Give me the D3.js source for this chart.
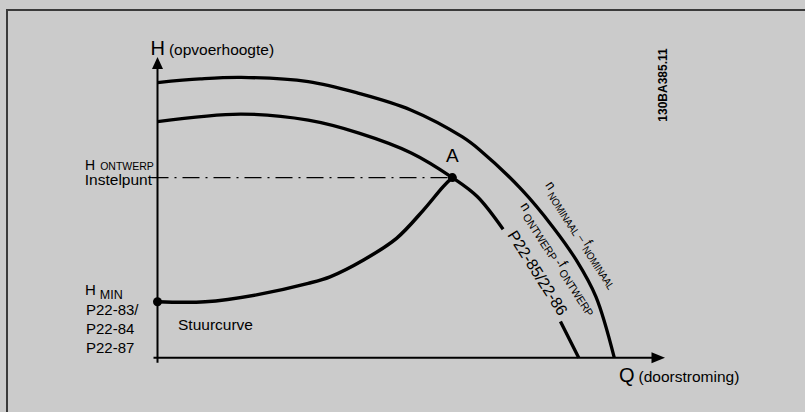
<!DOCTYPE html>
<html>
<head>
<meta charset="utf-8">
<script src="https://cdn.jsdelivr.net/npm/d3@7"></script>
<style>
    html, body { margin: 0; padding: 0; background: #cbcbcb; }
    svg { display: block; font-family: "Liberation Sans", Arial, Helvetica, sans-serif; }
</style>
</head>
<body>
<svg id="chart" width="805" height="412"></svg>
<script>
// pump curve at nominal speed (Q = flow, H = head, 0..100 of axis length)
const nominalQ = [0, 8.4, 16.5, 29.7, 39.7, 49.9, 60, 63.5, 71.8, 77.9, 82.5, 86.4, 90];
const nominalH = [91.5, 92.7, 93.2, 91.8, 87.9, 82.4, 73.5, 69.1, 55.8, 43.5, 32.5, 20.2, 0];

// pump curve at design speed (null = gap where the label sits)
const designQ = [0, 16.4, 29.7, 39.7, 50, 58.1, 63, 68.1, null, 79.4, 83];
const designH = [78.5, 81, 79, 74.7, 68.1, 59.9, 53.6, 42.7, null, 12, 0];

// control curve (Stuurcurve) from H min to design point A
const controlQ = [0, 9.4, 19.5, 29.7, 34, 40.6, 47.1, 52.4, 56.3, 58.1];
const controlH = [18.6, 18.6, 20.9, 24.7, 26.9, 32.5, 39.7, 49.1, 56.9, 59.9];

// marked points: H min and design point A
const pointQ = [0, 58.1];
const pointH = [18.6, 59.9];
const pointLabel = ["", "A"];

const svg = d3.select("#chart");

// frame
svg.append("path")
    .attr("d", "M7,412 V10 H805")
    .attr("fill", "none")
    .attr("stroke", "#3a3a3a")
    .attr("stroke-width", 2);

const x = d3.scaleLinear().domain([0, 100]).range([157.5, 665]);
const y = d3.scaleLinear().domain([0, 100]).range([357.7, 57]);

const g = svg.append("g");

// axes
g.append("line")
    .attr("x1", x(0)).attr("x2", x(0))
    .attr("y1", y(0) + 5).attr("y2", y(100) + 12)
    .attr("stroke", "#000").attr("stroke-width", 2);
g.append("path")
    .attr("d", `M${x(0)},${y(100)} L${x(0) - 5.5},${y(100) + 12} L${x(0) + 5.5},${y(100) + 12} Z`)
    .attr("fill", "#000");

g.append("line")
    .attr("x1", x(0) - 4).attr("x2", x(100) - 13)
    .attr("y1", y(0)).attr("y2", y(0))
    .attr("stroke", "#000").attr("stroke-width", 2);
g.append("path")
    .attr("d", `M${x(100)},${y(0)} L${x(100) - 13.5},${y(0) - 5.5} L${x(100) - 13.5},${y(0) + 5.5} Z`)
    .attr("fill", "#000");

const toPts = (qs, hs) => qs.map((q, i) => [q, hs[i]]);

const line = d3.line()
    .defined(d => d[0] !== null && d[1] !== null)
    .x(d => x(d[0]))
    .y(d => y(d[1]))
    .curve(d3.curveCatmullRom.alpha(0.5));

// setpoint dash-dot line
g.append("line")
    .attr("x1", x(0) - 6).attr("x2", x(pointQ[1]))
    .attr("y1", y(pointH[1])).attr("y2", y(pointH[1]))
    .attr("stroke", "#000").attr("stroke-width", 1.4)
    .attr("stroke-dasharray", "17,6,2,6");

g.append("path")
    .datum(toPts(nominalQ, nominalH))
    .attr("d", line)
    .attr("fill", "none").attr("stroke", "#000").attr("stroke-width", 3.3);

g.append("path")
    .datum(toPts(designQ, designH))
    .attr("d", line)
    .attr("fill", "none").attr("stroke", "#000").attr("stroke-width", 3.3);

g.append("path")
    .datum(toPts(controlQ, controlH))
    .attr("d", line)
    .attr("fill", "none").attr("stroke", "#000").attr("stroke-width", 3.5);

const points = pointQ.map((q, i) => ({ q: q, h: pointH[i], label: pointLabel[i] }));

g.selectAll(".pt")
    .data(points)
    .enter()
    .append("circle")
    .attr("class", "pt")
    .attr("cx", d => x(d.q))
    .attr("cy", d => y(d.h))
    .attr("r", 4.5)
    .attr("fill", "#000");

g.selectAll(".ptlabel")
    .data(points.filter(d => d.label))
    .enter()
    .append("text")
    .attr("class", "ptlabel")
    .attr("x", d => x(d.q))
    .attr("y", d => y(d.h) - 16)
    .attr("text-anchor", "middle")
    .style("font-size", "19px")
    .text(d => d.label);

// axis titles
const ht = g.append("text").attr("x", 150.5).attr("y", 55);
ht.append("tspan").style("font-size", "20px").text("H");
ht.append("tspan").attr("dx", 4).style("font-size", "15.5px").text("(opvoerhoogte)");

const qt = g.append("text").attr("x", 619).attr("y", 382);
qt.append("tspan").style("font-size", "20px").text("Q");
qt.append("tspan").attr("dx", 4).style("font-size", "15.5px").text("(doorstroming)");

// left annotations
const hd = g.append("text").attr("x", 85).attr("y", 169.5);
hd.append("tspan").style("font-size", "14px").text("H");
hd.append("tspan").attr("dx", 5).style("font-size", "10.5px").text("ONTWERP");

g.append("text")
    .attr("x", 152).attr("y", 185)
    .attr("text-anchor", "end")
    .style("font-size", "15.5px")
    .text("Instelpunt");

const hm = g.append("text").attr("x", 85).attr("y", 295);
hm.append("tspan").style("font-size", "15px").text("H");
hm.append("tspan").attr("dx", 4).attr("dy", 4).style("font-size", "12.5px").text("MIN");

["P22-83/", "P22-84", "P22-87"].forEach((t, i) => {
    g.append("text")
        .attr("x", 86).attr("y", 315 + i * 19)
        .style("font-size", "15px")
        .text(t);
});

g.append("text")
    .attr("x", 178).attr("y", 330)
    .style("font-size", "15.5px")
    .text("Stuurcurve");

// rotated curve labels
const l1 = g.append("text").attr("transform", "translate(545,185) rotate(57) scale(0.9,1)");
l1.append("tspan").style("font-size", "14px").text("n");
l1.append("tspan").attr("dx", 3).attr("dy", 4).style("font-size", "10.5px").text("NOMINAAL");
l1.append("tspan").attr("dx", 3).attr("dy", -2).style("font-size", "12px").text("–");
l1.append("tspan").attr("dx", 3).attr("dy", -2).style("font-size", "14px").text("f");
l1.append("tspan").attr("dy", 4).style("font-size", "10.5px").text("NOMINAAL");

const l2 = g.append("text").attr("transform", "translate(520,206) rotate(57) scale(0.95,1)");
l2.append("tspan").style("font-size", "14px").text("n");
l2.append("tspan").attr("dx", 3).attr("dy", 4).style("font-size", "11px").text("ONTWERP");
l2.append("tspan").attr("dx", 3).attr("dy", -2).style("font-size", "12px").text("-");
l2.append("tspan").attr("dy", -2).style("font-size", "14px").text("f");
l2.append("tspan").attr("dx", 3).attr("dy", 4).style("font-size", "11px").text("ONTWERP");

g.append("text")
    .attr("transform", "translate(507,235) rotate(57.5)")
    .style("font-size", "16px")
    .text("P22-85/22-86");

// drawing code
g.append("text")
    .attr("transform", "translate(667,85) rotate(-90)")
    .attr("text-anchor", "middle")
    .style("font-size", "12px")
    .style("font-weight", "bold")
    .text("130BA385.11");
</script>
</body>
</html>
